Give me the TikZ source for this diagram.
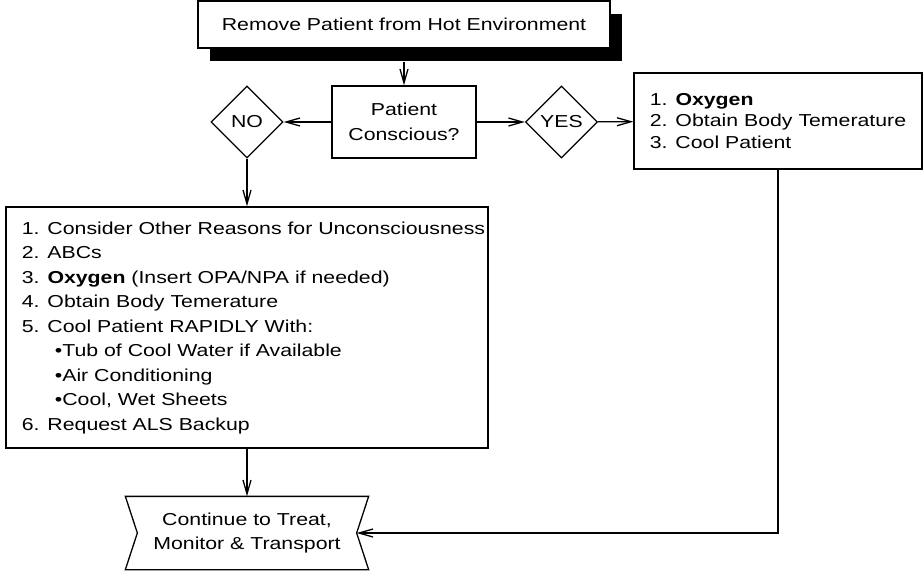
\documentclass[tikz,border=0pt]{standalone}
\usepackage{fontspec}
\setmainfont[FakeStretch=1.23]{Liberation Sans}
\usetikzlibrary{shapes.geometric,arrows.meta,shadows}
\begin{document}
\begin{tikzpicture}[x=1pt,y=-1pt,line width=1.3pt,
				every node/.style={draw,fill=white,font=\fontsize{17.3}{24.5}\selectfont,inner sep=0pt},
				box/.style={rectangle,align=center},
				choice/.style={diamond,minimum width=72pt,minimum height=72pt},
				flow/.style={-{Straight Barb[length=14pt,width=8pt]}}]
\useasboundingbox (0,0) rectangle (924,571);
\node[box,minimum width=412pt,minimum height=47pt,
	drop shadow={shadow xshift=12pt,shadow yshift=-13pt,fill=black,opacity=1}] (remove) at (404,24.5) {Remove Patient from Hot Environment};
\node[box,minimum width=144pt,minimum height=72pt] (cons) at (404,122) {Patient\\Conscious?};
\node[choice] (no) at (247,122) {NO};
\node[choice] (yes) at (561.5,122) {YES};
\node[box,align=left,minimum width=288pt,minimum height=96pt,
	font=\fontsize{17.3}{21.5}\selectfont] (oxygen) at (778,121) {1. \textbf{Oxygen}\\
	2. Obtain Body Temerature\\
	3. Cool Patient};
\node[rectangle,minimum width=482pt,minimum height=241pt] (steps) at (247,327.5) {\begin{tabular}{@{\hspace{13pt}}l@{}}
	1. Consider Other Reasons for Unconsciousness\\
	2. ABCs\\
	3. \textbf{Oxygen} (Insert OPA/NPA if needed)\\
	4. Obtain Body Temerature\\
	5. Cool Patient RAPIDLY With:\\
	\hspace*{33pt}•Tub of Cool Water if Available\\
	\hspace*{33pt}•Air Conditioning\\
	\hspace*{33pt}•Cool, Wet Sheets\\
	6. Request ALS Backup
	\end{tabular}};
\node[box,draw=none,minimum width=242pt,minimum height=72pt] (cont) at (247,533) {Continue to Treat,\\Monitor \& Transport};
\draw (cont.north west) -- (cont.north east) -- ([xshift=-12pt]cont.east) -- (cont.south east)
	-- (cont.south west) -- ([xshift=12pt]cont.west) -- cycle;
\draw[flow] ([yshift=-13pt]remove.south) -- (cons);
\draw[flow] (cons) -- (no);
\draw[flow] (cons) -- (yes);
\draw[flow] (yes) -- (oxygen);
\draw[flow] (no) -- (steps);
\draw[flow] (steps) -- (cont);
\draw[flow] (oxygen) |- ([xshift=-12pt]cont.east);
\end{tikzpicture}
\end{document}
